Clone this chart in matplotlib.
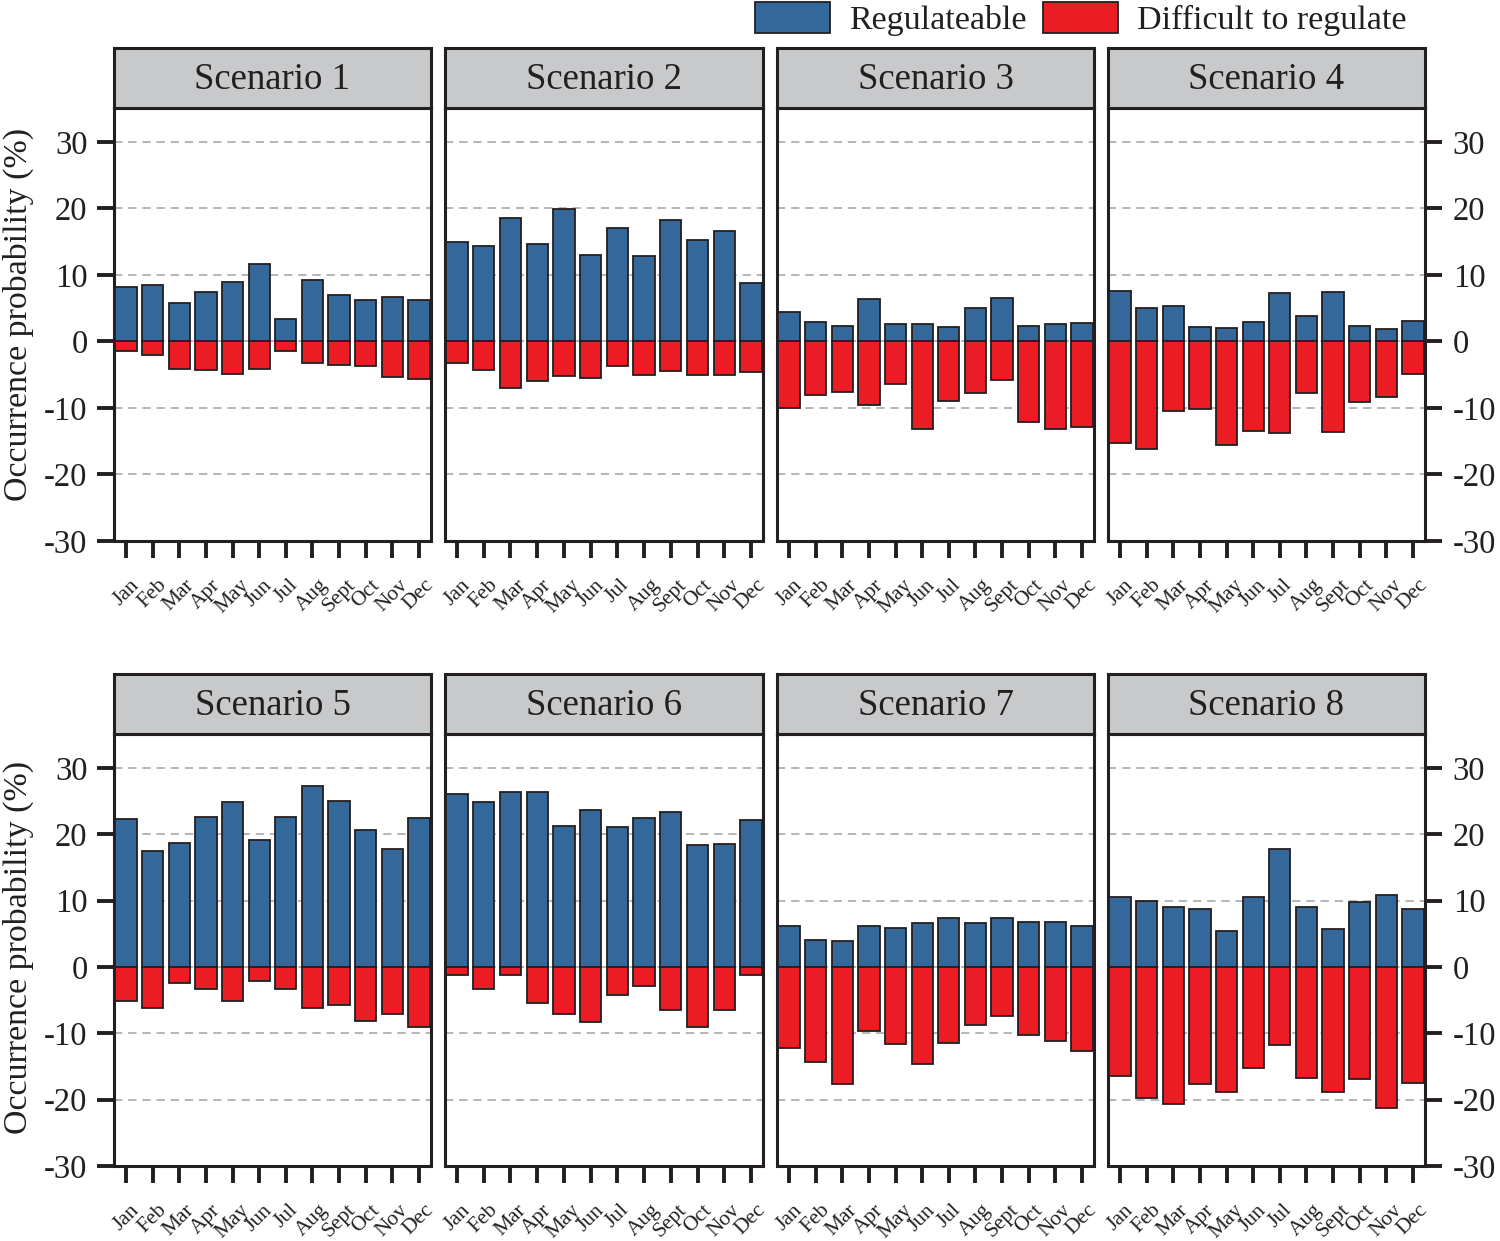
import matplotlib
matplotlib.use("Agg")
import matplotlib.pyplot as plt
from matplotlib.patches import Patch

plt.rcParams['font.family'] = ['Liberation Serif', 'DejaVu Serif']
plt.rcParams['axes.unicode_minus'] = False

# Datos (probabilidad de ocurrencia, %)
meses = ['Jan', 'Feb', 'Mar', 'Apr', 'May', 'Jun', 'Jul', 'Aug', 'Sept', 'Oct', 'Nov', 'Dec']
escenarios = ['Scenario 1', 'Scenario 2', 'Scenario 3', 'Scenario 4',
              'Scenario 5', 'Scenario 6', 'Scenario 7', 'Scenario 8']

regulable_1 = [8.2, 8.5, 5.8, 7.4, 9.0, 11.7, 3.4, 9.2, 7.0, 6.2, 6.7, 6.3]
dificil_1 = [-1.4, -2.0, -4.2, -4.3, -4.9, -4.1, -1.4, -3.3, -3.6, -3.7, -5.3, -5.6]

regulable_2 = [15.0, 14.4, 18.5, 14.6, 19.9, 13.0, 17.1, 12.9, 18.2, 15.3, 16.6, 8.8]
dificil_2 = [-3.3, -4.3, -7.0, -6.0, -5.2, -5.5, -3.7, -5.1, -4.4, -5.1, -5.1, -4.6]

regulable_3 = [4.4, 2.9, 2.3, 6.4, 2.6, 2.7, 2.2, 5.0, 6.6, 2.3, 2.7, 2.8]
dificil_3 = [-10.0, -8.0, -7.6, -9.5, -6.4, -13.1, -9.0, -7.7, -5.8, -12.1, -13.1, -12.8]

regulable_4 = [7.6, 5.1, 5.4, 2.2, 2.0, 2.9, 7.3, 3.8, 7.4, 2.3, 1.8, 3.1]
dificil_4 = [-15.2, -16.2, -10.4, -10.1, -15.6, -13.5, -13.8, -7.7, -13.6, -9.1, -8.3, -4.9]

regulable_5 = [22.3, 17.4, 18.6, 22.6, 24.8, 19.1, 22.6, 27.2, 25.0, 20.6, 17.8, 22.4]
dificil_5 = [-5.2, -6.2, -2.4, -3.4, -5.1, -2.1, -3.4, -6.2, -5.7, -8.2, -7.1, -9.1]

regulable_6 = [26.0, 24.8, 26.4, 26.3, 21.2, 23.6, 21.1, 22.4, 23.3, 18.4, 18.5, 22.1]
dificil_6 = [-1.2, -3.3, -1.2, -5.5, -7.1, -8.3, -4.3, -2.9, -6.5, -9.1, -6.5, -1.2]

regulable_7 = [6.1, 4.1, 3.9, 6.1, 5.9, 6.6, 7.3, 6.6, 7.4, 6.7, 6.8, 6.2]
dificil_7 = [-12.2, -14.3, -17.6, -9.6, -11.6, -14.6, -11.5, -8.8, -7.4, -10.2, -11.2, -12.6]

regulable_8 = [10.6, 10.0, 9.1, 8.8, 5.4, 10.5, 17.8, 9.0, 5.7, 9.8, 10.8, 8.8]
dificil_8 = [-16.4, -19.8, -20.7, -17.6, -18.8, -15.2, -11.7, -16.8, -18.8, -16.9, -21.2, -17.5]

regulables = [regulable_1, regulable_2, regulable_3, regulable_4,
              regulable_5, regulable_6, regulable_7, regulable_8]
dificiles = [dificil_1, dificil_2, dificil_3, dificil_4,
             dificil_5, dificil_6, dificil_7, dificil_8]

AZUL = '#34679a'
ROJO = '#ec1c24'
NEGRO = '#231f20'
GRIS_CAB = '#c8c9cb'

W, H = 1500, 1241
fig = plt.figure(figsize=(W / 100, H / 100), dpi=100)

# posiciones de los paneles en píxeles
columnas = [(114, 431), (445, 763), (777, 1094), (1108, 1425)]
filas = [(48, 108, 541), (674, 734, 1166)]  # cabecera arriba, panel arriba, panel abajo

x = list(range(len(meses)))

for i in range(8):
    fila, col = divmod(i, 4)
    x0, x1 = columnas[col]
    cab_top, p_top, p_bot = filas[fila]

    ax = fig.add_axes([x0 / W, 1 - p_bot / H, (x1 - x0) / W, (p_bot - p_top) / H])
    ax.bar(x, regulables[i], width=0.8, color=AZUL, edgecolor=NEGRO, linewidth=1.3, zorder=3)
    ax.bar(x, dificiles[i], width=0.8, color=ROJO, edgecolor=NEGRO, linewidth=1.3, zorder=3)

    ax.set_xlim(-0.45, 11.45)
    ax.set_ylim(-30, 35.1)
    ax.set_yticks([-30, -20, -10, 0, 10, 20, 30])
    ax.grid(axis='y', color='#a7a9ac', linestyle=(0, (5, 3.5)), linewidth=1.2, zorder=0)
    ax.set_xticks(x)
    ax.set_xticklabels(meses, rotation=45, ha='center', fontsize=15.5, color=NEGRO)
    ax.tick_params(axis='x', length=12, width=2.8, direction='out', pad=13, colors=NEGRO)

    if col == 0:
        ax.tick_params(axis='y', length=12, width=2.8, pad=7, labelsize=23.5, colors=NEGRO)
    elif col == 3:
        ax.yaxis.tick_right()
        ax.tick_params(axis='y', length=12, width=2.8, pad=8, labelsize=23.5, colors=NEGRO)
    else:
        ax.tick_params(axis='y', left=False, labelleft=False)

    for s in ax.spines.values():
        s.set_linewidth(2.2)
        s.set_color(NEGRO)

    # cabecera gris con el nombre del escenario
    cab = fig.add_axes([x0 / W, 1 - p_top / H, (x1 - x0) / W, (p_top - cab_top) / H])
    cab.set_facecolor(GRIS_CAB)
    cab.set_xticks([])
    cab.set_yticks([])
    for s in cab.spines.values():
        s.set_linewidth(2.2)
        s.set_color(NEGRO)
    cab.text(0.5, 0.47, escenarios[i], ha='center', va='center', fontsize=26.5, color=NEGRO,
             transform=cab.transAxes)

# etiquetas del eje y
for centro in [314, 947]:
    fig.text(18 / W, 1 - centro / H, 'Occurrence probability (%)', rotation=90,
             ha='center', va='center', fontsize=24.5, color=NEGRO)

# leyenda
manejadores = [Patch(facecolor=AZUL, edgecolor=NEGRO, linewidth=1.3, label='Regulateable'),
               Patch(facecolor=ROJO, edgecolor=NEGRO, linewidth=1.3, label='Difficult to regulate')]
fig.legend(handles=manejadores, loc='upper right', bbox_to_anchor=(1408 / W, 1.0),
           ncol=2, frameon=False, fontsize=24.5, handlelength=2.2, handleheight=1.05,
           handletextpad=0.55, columnspacing=0.5, borderpad=0.05, borderaxespad=0,
           labelcolor=NEGRO)

fig.savefig('out.png', dpi=100)
